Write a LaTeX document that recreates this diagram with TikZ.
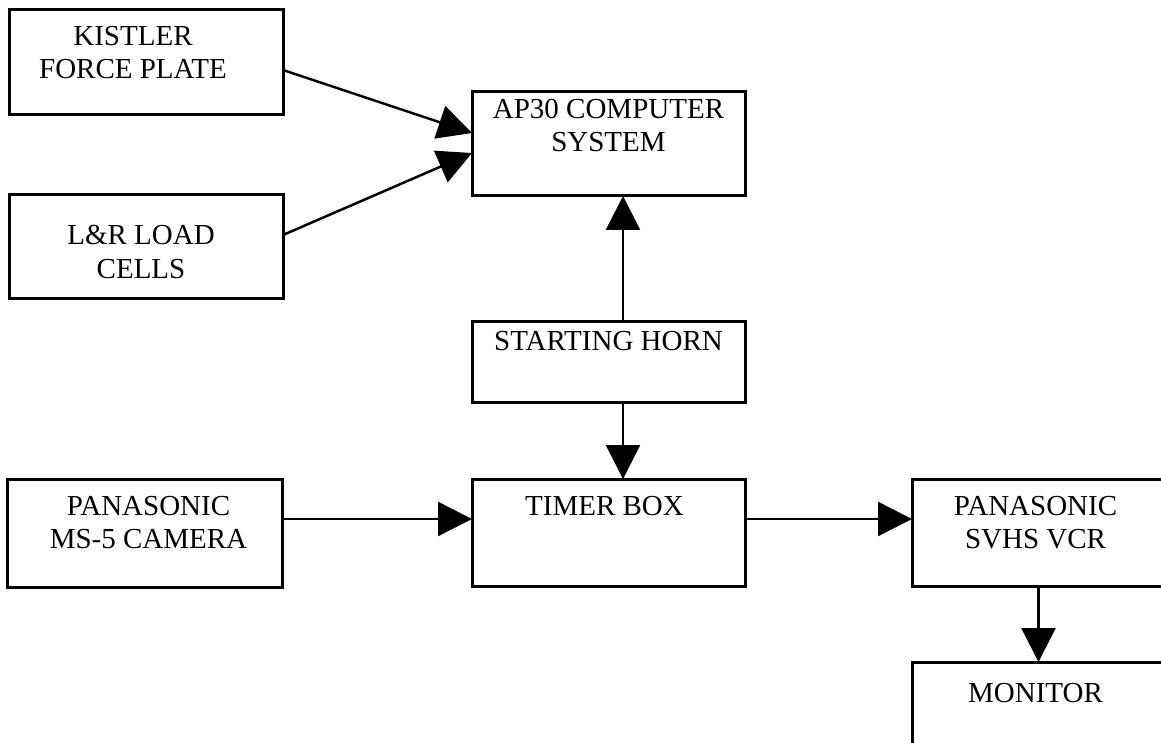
\documentclass[tikz,border=0pt]{standalone}
\usepackage{fontspec}
\setmainfont{Liberation Serif}
\usetikzlibrary{arrows.meta}
\begin{document}
\begin{tikzpicture}[x=1pt,y=-1pt,
  unit/.style={draw=black,line width=3pt,anchor=north west,minimum width=273pt,inner sep=0pt,outer sep=0pt},
  caption/.style={anchor=base,align=center,inner sep=0pt,font=\fontsize{29}{33}\selectfont},
  link/.style={line width=2.5pt,-{Triangle[length=34pt,width=34pt]}}]
\def\hh{81pt};
\def\hm{105pt};

\useasboundingbox (0,0) rectangle (1161,743);
\clip (0,0) rectangle (1161,743);

% left column
\node[unit,minimum width=274pt,minimum height=\hm] (kistler) at (9,10) {};
\node[caption] (kistlerT) at ([shift={(-13,69)}]kistler.north) {KISTLER\\FORCE PLATE};
\node[unit,minimum width=274pt,minimum height=103pt] (cells) at (9,195) {};
\node[caption] (cellsT) at ([shift={(-5,83)}]cells.north) {L\&R LOAD\\CELLS};
\node[unit,minimum width=275pt,minimum height=108pt] (camera) at (7,479) {};
\node[caption] (cameraT) at ([shift={(4,69)}]camera.north) {PANASONIC\\MS-5 CAMERA};

% middle column
\node[unit,minimum height=104pt] (ap) at (472,92) {};
\node[caption] (apT) at ([shift={(0,60)}]ap.north) {AP30 COMPUTER\\SYSTEM};
\node[unit,minimum height=\hh] (horn) at (472,321) {};
\node[caption] (hornT) at ([shift={(0,29)}]horn.north) {STARTING HORN};
\node[unit,minimum height=107pt] (timer) at (472,479) {};
\node[caption] (timerT) at ([shift={(-4,36)}]timer.north) {TIMER BOX};

% right column
\node[unit,minimum width=253pt,minimum height=107pt] (vcr) at (912,479) {};
\node[caption] (vcrT) at ([shift={(-3,69)}]vcr.north) {PANASONIC\\SVHS VCR};
\node[unit,minimum width=253pt,minimum height=\hm] (monitor) at (912,662) {};
\node[caption] (monitorT) at ([shift={(-3,40)}]monitor.north) {MONITOR};

\draw[link] ([yshift=-7.5pt]kistler.east) -- ([yshift=11pt]ap.west);
\draw[link] ([yshift=11.5pt]cells.east) -- ([yshift=-9pt]ap.west);
\draw[link] ([xshift=14.5pt]horn.north) -- ([xshift=14.5pt]ap.south);
\draw[link] ([xshift=14.5pt]horn.south) -- ([xshift=14.5pt]timer.north);
\draw[link] ([yshift=14pt]camera.east) -- ([yshift=14pt]camera.east -| timer.west);
\draw[link] ([yshift=13.5pt]timer.east) -- ([yshift=13.5pt]timer.east -| vcr.west);
\draw[link] (vcr.south) -- (monitor.north);
\end{tikzpicture}
\end{document}
